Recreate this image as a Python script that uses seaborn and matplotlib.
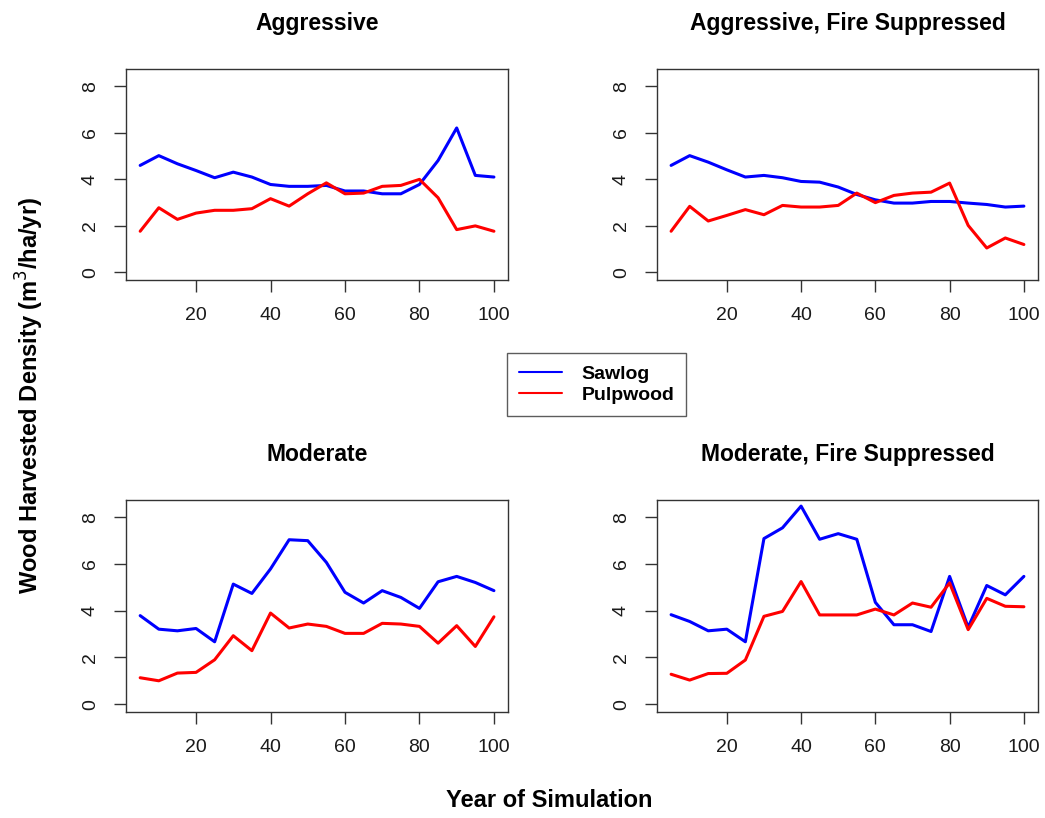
import pandas as pd
import matplotlib
matplotlib.use('Agg')
import matplotlib.pyplot as plt
from matplotlib.lines import Line2D
import seaborn as sns

# years of simulation
years = [5, 10, 15, 20, 25, 30, 35, 40, 45, 50, 55, 60, 65, 70, 75, 80, 85, 90, 95, 100]

agg_saw = [4.59, 5.01, 4.66, 4.37, 4.06, 4.30, 4.09, 3.77, 3.69, 3.69,
           3.73, 3.49, 3.49, 3.37, 3.37, 3.77, 4.80, 6.20, 4.16, 4.09]
agg_pulp = [1.76, 2.77, 2.27, 2.54, 2.66, 2.66, 2.73, 3.16, 2.84, 3.37,
            3.84, 3.37, 3.40, 3.69, 3.73, 3.99, 3.20, 1.83, 1.99, 1.76]

aggfs_saw = [4.59, 5.01, 4.73, 4.40, 4.09, 4.16, 4.06, 3.90, 3.87, 3.66,
             3.34, 3.11, 2.97, 2.97, 3.04, 3.04, 2.97, 2.91, 2.80, 2.84]
aggfs_pulp = [1.76, 2.83, 2.20, 2.44, 2.69, 2.47, 2.87, 2.80, 2.80, 2.87,
              3.40, 2.99, 3.30, 3.40, 3.44, 3.83, 2.01, 1.04, 1.47, 1.19]

mod_saw = [3.79, 3.21, 3.14, 3.24, 2.67, 5.14, 4.74, 5.79, 7.04, 7.00,
           6.07, 4.79, 4.33, 4.86, 4.57, 4.10, 5.24, 5.47, 5.21, 4.86]
mod_pulp = [1.13, 1.00, 1.33, 1.36, 1.90, 2.93, 2.29, 3.90, 3.26, 3.43,
            3.33, 3.03, 3.03, 3.46, 3.43, 3.33, 2.61, 3.36, 2.47, 3.74]

modfs_saw = [3.83, 3.54, 3.14, 3.21, 2.67, 7.09, 7.55, 8.48, 7.06, 7.30,
             7.06, 4.36, 3.40, 3.40, 3.11, 5.47, 3.29, 5.08, 4.68, 5.47]
modfs_pulp = [1.28, 1.03, 1.31, 1.32, 1.89, 3.76, 3.97, 5.25, 3.82, 3.82,
              3.82, 4.07, 3.82, 4.33, 4.15, 5.19, 3.19, 4.53, 4.19, 4.17]

titles = ['Aggressive', 'Aggressive, Fire Suppressed', 'Moderate', 'Moderate, Fire Suppressed']
series = [(agg_saw, agg_pulp), (aggfs_saw, aggfs_pulp), (mod_saw, mod_pulp), (modfs_saw, modfs_pulp)]
palette = {'Sawlog': 'blue', 'Pulpwood': 'red'}

sns.set_style('white')
plt.rcParams['font.family'] = ['Liberation Sans', 'DejaVu Sans']
plt.rcParams['text.color'] = 'black'

fig = plt.figure(figsize=(10.45, 8.18), dpi=100)

# axes positions (left, bottom, width, height)
positions = [
    (0.1206, 0.6577, 0.3656, 0.2580),
    (0.6287, 0.6577, 0.3646, 0.2580),
    (0.1206, 0.1296, 0.3656, 0.2590),
    (0.6287, 0.1296, 0.3646, 0.2590),
]

for pos, title, (saw, pulp) in zip(positions, titles, series):
    ax = fig.add_axes(pos)
    df = pd.DataFrame({
        'year': years * 2,
        'value': saw + pulp,
        'type': ['Sawlog'] * len(years) + ['Pulpwood'] * len(years),
    })
    sns.lineplot(data=df, x='year', y='value', hue='type', palette=palette,
                 linewidth=2.2, legend=False, ax=ax)
    ax.set_xlim(1.2, 103.8)
    ax.set_ylim(-0.336, 8.736)
    ax.set_xticks([20, 40, 60, 80, 100])
    ax.set_yticks([0, 2, 4, 6, 8])
    ax.set_yticklabels(['0', '2', '4', '6', '8'], rotation=90, va='center')
    ax.tick_params(direction='out', length=8.5, width=1, colors='#333333',
                   labelcolor='#1a1a1a', labelsize=14, pad=11, left=True, bottom=True)
    ax.set_xlabel('')
    ax.set_ylabel('')
    for s in ax.spines.values():
        s.set_color('#333333')
        s.set_linewidth(1)
    ax.set_title(title, fontsize=16.5, fontweight='bold', pad=28, color='black')

handles = [Line2D([], [], color='blue', lw=1.5), Line2D([], [], color='red', lw=1.5)]
leg = fig.legend(handles, ['Sawlog', 'Pulpwood'], loc='center', bbox_to_anchor=(0.571, 0.530),
                 frameon=True, fancybox=False, prop={'weight': 'bold', 'size': 14},
                 handlelength=2.2, borderpad=0.6, labelspacing=0.2, handletextpad=1.0)
leg.get_frame().set_edgecolor('#333333')
leg.get_frame().set_linewidth(1)

fig.text(0.526, 0.022, 'Year of Simulation', fontsize=17, fontweight='bold', ha='center', va='center')
fig.text(0.029, 0.517, 'Wood Harvested Density (m$^3$/ha/yr)', fontsize=17, fontweight='bold',
         rotation=90, ha='center', va='center')

plt.savefig('out.png', dpi=100)
